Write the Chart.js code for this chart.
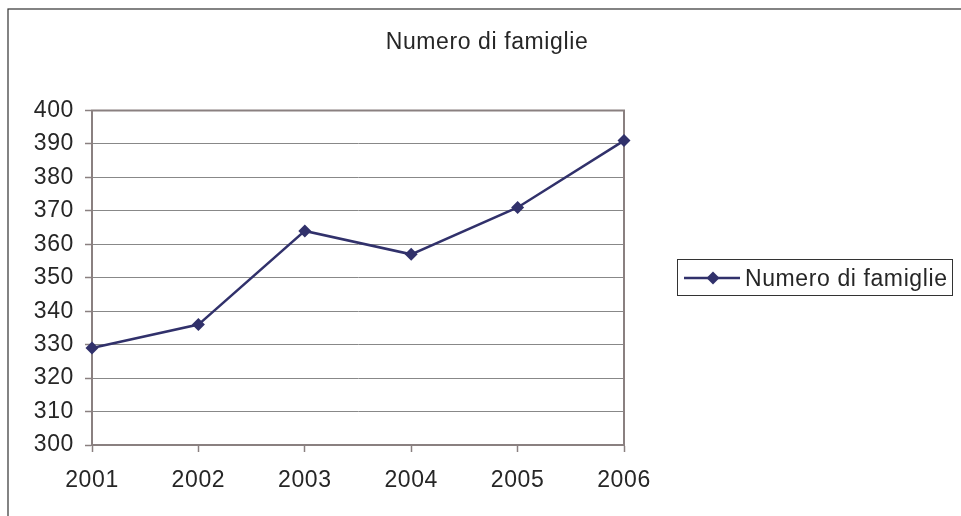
<!DOCTYPE html>
<html>
<head>
<meta charset="utf-8">
<script src="https://cdn.jsdelivr.net/npm/chart.js@4/dist/chart.umd.min.js"></script>
<style>
  html, body { margin: 0; padding: 0; background: #ffffff; }
  #wrap { width: 961px; height: 516px; }
</style>
</head>
<body>
<div id="wrap"><canvas id="chart" width="961" height="516"></canvas></div>
<script>
// Families per year
const chartTitle = 'Numero di famiglie';
const years = ['2001', '2002', '2003', '2004', '2005', '2006'];
const families = [329, 336, 364, 357, 371, 391];
const yTicks = [300, 310, 320, 330, 340, 350, 360, 370, 380, 390, 400];

const FONT = 'Liberation Sans, Arial, Helvetica, sans-serif';
const FONT_SIZE = 23;
const TEXT = '#262626';
const SERIES = '#31316b';
const FRAME = '#8a8080';

// Slightly widened lettering for all canvas text
const spacing = {
  id: 'spacing',
  beforeUpdate(chart) { chart.ctx.letterSpacing = '0.6px'; },
  beforeDraw(chart) { chart.ctx.letterSpacing = '0.6px'; }
};

// Outer frame, title, plot border and boxed legend
const decor = {
  id: 'decor',
  beforeDraw(chart) {
    const ctx = chart.ctx;
    ctx.save();
    ctx.fillStyle = '#ffffff';
    ctx.fillRect(0, 0, chart.width, chart.height);
    ctx.strokeStyle = '#333333';
    ctx.lineWidth = 1.2;
    ctx.strokeRect(8, 9, chart.width + 20, chart.height + 20);
    ctx.fillStyle = TEXT;
    ctx.font = FONT_SIZE + 'px ' + FONT;
    ctx.textAlign = 'center';
    ctx.textBaseline = 'alphabetic';
    ctx.fillText(chartTitle, 487, 48.5);
    ctx.restore();
  },
  beforeDatasetsDraw(chart) {
    const ctx = chart.ctx, a = chart.chartArea;
    ctx.save();
    ctx.strokeStyle = FRAME;
    ctx.lineWidth = 2;
    ctx.strokeRect(a.left, a.top, a.right - a.left, a.bottom - a.top);
    ctx.restore();
  },
  afterDraw(chart) {
    const ctx = chart.ctx;
    const ds = chart.data.datasets[0];
    ctx.save();
    ctx.strokeStyle = '#333333';
    ctx.lineWidth = 1;
    ctx.strokeRect(677.5, 259.5, 275, 36);
    ctx.strokeStyle = SERIES;
    ctx.lineWidth = 2.5;
    ctx.beginPath();
    ctx.moveTo(684, 278);
    ctx.lineTo(740, 278);
    ctx.stroke();
    ctx.fillStyle = SERIES;
    ctx.beginPath();
    ctx.moveTo(713, 271.5);
    ctx.lineTo(719.5, 278);
    ctx.lineTo(713, 284.5);
    ctx.lineTo(706.5, 278);
    ctx.closePath();
    ctx.fill();
    ctx.fillStyle = TEXT;
    ctx.font = FONT_SIZE + 'px ' + FONT;
    ctx.textAlign = 'left';
    ctx.textBaseline = 'alphabetic';
    ctx.fillText(ds.label, 745, 286);
    ctx.restore();
  }
};

new Chart(document.getElementById('chart'), {
  type: 'line',
  data: {
    labels: years,
    datasets: [{
      label: chartTitle,
      data: families,
      borderColor: SERIES,
      backgroundColor: SERIES,
      borderWidth: 2.5,
      pointStyle: 'rectRot',
      pointRadius: 6.5,
      pointHoverRadius: 6.5,
      pointBorderWidth: 0,
      tension: 0,
      clip: false
    }]
  },
  options: {
    responsive: false,
    animation: false,
    devicePixelRatio: 1,
    layout: { padding: { left: 0, top: 110.5, right: 337, bottom: 6 } },
    plugins: {
      legend: { display: false },
      title: { display: false },
      tooltip: { enabled: false }
    },
    scales: {
      x: {
        type: 'category',
        offset: false,
        afterFit(scale) { scale.height = 65; },
        grid: {
          display: true,
          drawOnChartArea: false,
          drawTicks: true,
          tickLength: 7,
          tickColor: FRAME,
          tickWidth: 1.5
        },
        border: { display: true, color: FRAME, width: 2 },
        ticks: {
          color: TEXT,
          font: { family: FONT, size: FONT_SIZE },
          padding: 15,
          maxRotation: 0,
          autoSkip: false
        }
      },
      y: {
        min: 300,
        max: 400,
        afterFit(scale) { scale.width = 92; },
        afterBuildTicks(scale) { scale.ticks = yTicks.map(v => ({ value: v })); },
        grid: {
          color: '#888888',
          lineWidth: 1,
          drawTicks: true,
          tickLength: 7,
          tickColor: FRAME,
          tickWidth: 1.5
        },
        border: { display: true, color: FRAME, width: 2 },
        ticks: {
          color: TEXT,
          font: { family: FONT, size: FONT_SIZE },
          padding: 11
        }
      }
    }
  },
  plugins: [spacing, decor]
});
</script>
</body>
</html>
